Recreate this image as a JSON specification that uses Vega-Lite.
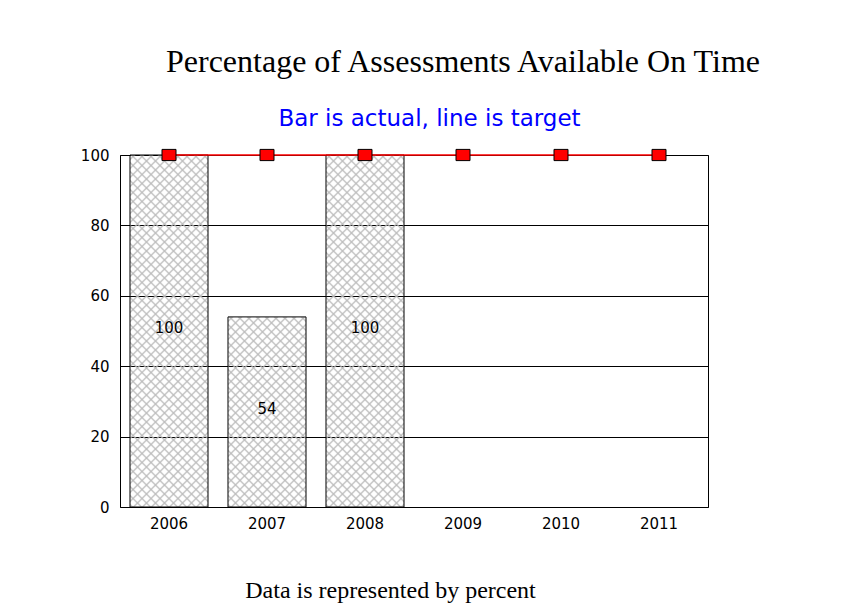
{
  "$schema": "https://vega.github.io/schema/vega-lite/v6.json",
  "width": 588,
  "height": 352,
  "autosize": "none",
  "padding": {"left": 120, "top": 155, "right": 150, "bottom": 108},
  "background": "white",
  "config": {"view": {"stroke": "black", "strokeWidth": 1}},
  "title": {"text": "Percentage of Assessments Available On Time", "font": "Liberation Serif", "fontSize": 32, "fontWeight": "normal", "color": "black", "anchor": "middle", "dx": 49, "offset": 28},
  "data": {"values": [
    {"year": "2006", "actual": 100, "target": 100},
    {"year": "2007", "actual": 54, "target": 100},
    {"year": "2008", "actual": 100, "target": 100},
    {"year": "2009", "actual": null, "target": 100},
    {"year": "2010", "actual": null, "target": 100},
    {"year": "2011", "actual": null, "target": 100}
  ]},
  "encoding": {
    "x": {"field": "year", "type": "ordinal", "scale": {"paddingInner": 0.20408, "paddingOuter": 0.10204},
      "axis": {"labelAngle": 0, "ticks": false, "domain": false, "labelFont": "DejaVu Sans", "labelFontSize": 15, "labelColor": "black", "labelPadding": 9,
        "title": "Data is represented by percent", "titleFont": "Liberation Serif", "titleFontSize": 24, "titleFontWeight": "normal", "titleColor": "black", "titleX": 270, "titleY": 90, "titleAlign": "center", "titleBaseline": "alphabetic"}}
  },
  "layer": [
    {"mark": {"type": "bar", "strokeWidth": 0},
     "encoding": {
       "y": {"field": "actual", "type": "quantitative", "scale": {"domain": [0, 100]},
         "axis": {"values": [0, 20, 40, 60, 80, 100], "grid": true, "gridColor": "black", "gridOpacity": 1, "gridWidth": 1, "ticks": false, "domain": false, "labelFont": "DejaVu Sans", "labelFontSize": 15, "labelColor": "black", "labelPadding": 11,
           "title": "Bar is actual, line is target", "titleAngle": 0, "titleX": 309, "titleY": -30, "titleAlign": "center", "titleBaseline": "alphabetic", "titleFont": "DejaVu Sans", "titleFontSize": 23, "titleFontWeight": "normal", "titleColor": "#0000ff"}},
       "fill": {
         "condition": {"test": "datum.actual < 100", "value": {"gradient": "linear", "x1": 0, "y1": 0, "x2": 0.83147, "y2": 2.02623, "stops": [
{"offset":0.006,"color":"#bbb0"},{"offset":0.01,"color":"#bbb"},{"offset":0.014,"color":"#bbb0"},
{"offset":0.026,"color":"#bbb0"},{"offset":0.03,"color":"#bbb"},{"offset":0.034,"color":"#bbb0"},
{"offset":0.046,"color":"#bbb0"},{"offset":0.05,"color":"#bbb"},{"offset":0.054,"color":"#bbb0"},
{"offset":0.066,"color":"#bbb0"},{"offset":0.07,"color":"#bbb"},{"offset":0.074,"color":"#bbb0"},
{"offset":0.086,"color":"#bbb0"},{"offset":0.09,"color":"#bbb"},{"offset":0.094,"color":"#bbb0"},
{"offset":0.106,"color":"#bbb0"},{"offset":0.11,"color":"#bbb"},{"offset":0.114,"color":"#bbb0"},
{"offset":0.126,"color":"#bbb0"},{"offset":0.13,"color":"#bbb"},{"offset":0.134,"color":"#bbb0"},
{"offset":0.146,"color":"#bbb0"},{"offset":0.15,"color":"#bbb"},{"offset":0.154,"color":"#bbb0"},
{"offset":0.166,"color":"#bbb0"},{"offset":0.17,"color":"#bbb"},{"offset":0.174,"color":"#bbb0"},
{"offset":0.186,"color":"#bbb0"},{"offset":0.19,"color":"#bbb"},{"offset":0.194,"color":"#bbb0"},
{"offset":0.206,"color":"#bbb0"},{"offset":0.21,"color":"#bbb"},{"offset":0.214,"color":"#bbb0"},
{"offset":0.226,"color":"#bbb0"},{"offset":0.23,"color":"#bbb"},{"offset":0.234,"color":"#bbb0"},
{"offset":0.246,"color":"#bbb0"},{"offset":0.25,"color":"#bbb"},{"offset":0.254,"color":"#bbb0"},
{"offset":0.266,"color":"#bbb0"},{"offset":0.27,"color":"#bbb"},{"offset":0.274,"color":"#bbb0"},
{"offset":0.286,"color":"#bbb0"},{"offset":0.29,"color":"#bbb"},{"offset":0.294,"color":"#bbb0"},
{"offset":0.306,"color":"#bbb0"},{"offset":0.31,"color":"#bbb"},{"offset":0.314,"color":"#bbb0"},
{"offset":0.326,"color":"#bbb0"},{"offset":0.33,"color":"#bbb"},{"offset":0.334,"color":"#bbb0"},
{"offset":0.346,"color":"#bbb0"},{"offset":0.35,"color":"#bbb"},{"offset":0.354,"color":"#bbb0"},
{"offset":0.366,"color":"#bbb0"},{"offset":0.37,"color":"#bbb"},{"offset":0.374,"color":"#bbb0"},
{"offset":0.386,"color":"#bbb0"},{"offset":0.39,"color":"#bbb"},{"offset":0.394,"color":"#bbb0"},
{"offset":0.406,"color":"#bbb0"},{"offset":0.41,"color":"#bbb"},{"offset":0.414,"color":"#bbb0"},
{"offset":0.426,"color":"#bbb0"},{"offset":0.43,"color":"#bbb"},{"offset":0.434,"color":"#bbb0"},
{"offset":0.446,"color":"#bbb0"},{"offset":0.45,"color":"#bbb"},{"offset":0.454,"color":"#bbb0"},
{"offset":0.466,"color":"#bbb0"},{"offset":0.47,"color":"#bbb"},{"offset":0.474,"color":"#bbb0"},
{"offset":0.486,"color":"#bbb0"},{"offset":0.49,"color":"#bbb"},{"offset":0.494,"color":"#bbb0"},
{"offset":0.506,"color":"#bbb0"},{"offset":0.51,"color":"#bbb"},{"offset":0.514,"color":"#bbb0"},
{"offset":0.526,"color":"#bbb0"},{"offset":0.53,"color":"#bbb"},{"offset":0.534,"color":"#bbb0"},
{"offset":0.546,"color":"#bbb0"},{"offset":0.55,"color":"#bbb"},{"offset":0.554,"color":"#bbb0"},
{"offset":0.566,"color":"#bbb0"},{"offset":0.57,"color":"#bbb"},{"offset":0.574,"color":"#bbb0"},
{"offset":0.586,"color":"#bbb0"},{"offset":0.59,"color":"#bbb"},{"offset":0.594,"color":"#bbb0"}
         ]}},
         "value": {"gradient": "linear", "x1": 0, "y1": 0, "x2": 0.27002, "y2": 1.21857, "stops": [
{"offset":0.006,"color":"#bbb0"},{"offset":0.01,"color":"#bbb"},{"offset":0.014,"color":"#bbb0"},
{"offset":0.026,"color":"#bbb0"},{"offset":0.03,"color":"#bbb"},{"offset":0.034,"color":"#bbb0"},
{"offset":0.046,"color":"#bbb0"},{"offset":0.05,"color":"#bbb"},{"offset":0.054,"color":"#bbb0"},
{"offset":0.066,"color":"#bbb0"},{"offset":0.07,"color":"#bbb"},{"offset":0.074,"color":"#bbb0"},
{"offset":0.086,"color":"#bbb0"},{"offset":0.09,"color":"#bbb"},{"offset":0.094,"color":"#bbb0"},
{"offset":0.106,"color":"#bbb0"},{"offset":0.11,"color":"#bbb"},{"offset":0.114,"color":"#bbb0"},
{"offset":0.126,"color":"#bbb0"},{"offset":0.13,"color":"#bbb"},{"offset":0.134,"color":"#bbb0"},
{"offset":0.146,"color":"#bbb0"},{"offset":0.15,"color":"#bbb"},{"offset":0.154,"color":"#bbb0"},
{"offset":0.166,"color":"#bbb0"},{"offset":0.17,"color":"#bbb"},{"offset":0.174,"color":"#bbb0"},
{"offset":0.186,"color":"#bbb0"},{"offset":0.19,"color":"#bbb"},{"offset":0.194,"color":"#bbb0"},
{"offset":0.206,"color":"#bbb0"},{"offset":0.21,"color":"#bbb"},{"offset":0.214,"color":"#bbb0"},
{"offset":0.226,"color":"#bbb0"},{"offset":0.23,"color":"#bbb"},{"offset":0.234,"color":"#bbb0"},
{"offset":0.246,"color":"#bbb0"},{"offset":0.25,"color":"#bbb"},{"offset":0.254,"color":"#bbb0"},
{"offset":0.266,"color":"#bbb0"},{"offset":0.27,"color":"#bbb"},{"offset":0.274,"color":"#bbb0"},
{"offset":0.286,"color":"#bbb0"},{"offset":0.29,"color":"#bbb"},{"offset":0.294,"color":"#bbb0"},
{"offset":0.306,"color":"#bbb0"},{"offset":0.31,"color":"#bbb"},{"offset":0.314,"color":"#bbb0"},
{"offset":0.326,"color":"#bbb0"},{"offset":0.33,"color":"#bbb"},{"offset":0.334,"color":"#bbb0"},
{"offset":0.346,"color":"#bbb0"},{"offset":0.35,"color":"#bbb"},{"offset":0.354,"color":"#bbb0"},
{"offset":0.366,"color":"#bbb0"},{"offset":0.37,"color":"#bbb"},{"offset":0.374,"color":"#bbb0"},
{"offset":0.386,"color":"#bbb0"},{"offset":0.39,"color":"#bbb"},{"offset":0.394,"color":"#bbb0"},
{"offset":0.406,"color":"#bbb0"},{"offset":0.41,"color":"#bbb"},{"offset":0.414,"color":"#bbb0"},
{"offset":0.426,"color":"#bbb0"},{"offset":0.43,"color":"#bbb"},{"offset":0.434,"color":"#bbb0"},
{"offset":0.446,"color":"#bbb0"},{"offset":0.45,"color":"#bbb"},{"offset":0.454,"color":"#bbb0"},
{"offset":0.466,"color":"#bbb0"},{"offset":0.47,"color":"#bbb"},{"offset":0.474,"color":"#bbb0"},
{"offset":0.486,"color":"#bbb0"},{"offset":0.49,"color":"#bbb"},{"offset":0.494,"color":"#bbb0"},
{"offset":0.506,"color":"#bbb0"},{"offset":0.51,"color":"#bbb"},{"offset":0.514,"color":"#bbb0"},
{"offset":0.526,"color":"#bbb0"},{"offset":0.53,"color":"#bbb"},{"offset":0.534,"color":"#bbb0"},
{"offset":0.546,"color":"#bbb0"},{"offset":0.55,"color":"#bbb"},{"offset":0.554,"color":"#bbb0"},
{"offset":0.566,"color":"#bbb0"},{"offset":0.57,"color":"#bbb"},{"offset":0.574,"color":"#bbb0"},
{"offset":0.586,"color":"#bbb0"},{"offset":0.59,"color":"#bbb"},{"offset":0.594,"color":"#bbb0"},
{"offset":0.606,"color":"#bbb0"},{"offset":0.61,"color":"#bbb"},{"offset":0.614,"color":"#bbb0"},
{"offset":0.626,"color":"#bbb0"},{"offset":0.63,"color":"#bbb"},{"offset":0.634,"color":"#bbb0"},
{"offset":0.646,"color":"#bbb0"},{"offset":0.65,"color":"#bbb"},{"offset":0.654,"color":"#bbb0"},
{"offset":0.666,"color":"#bbb0"},{"offset":0.67,"color":"#bbb"},{"offset":0.674,"color":"#bbb0"},
{"offset":0.686,"color":"#bbb0"},{"offset":0.69,"color":"#bbb"},{"offset":0.694,"color":"#bbb0"},
{"offset":0.706,"color":"#bbb0"},{"offset":0.71,"color":"#bbb"},{"offset":0.714,"color":"#bbb0"},
{"offset":0.726,"color":"#bbb0"},{"offset":0.73,"color":"#bbb"},{"offset":0.734,"color":"#bbb0"},
{"offset":0.746,"color":"#bbb0"},{"offset":0.75,"color":"#bbb"},{"offset":0.754,"color":"#bbb0"},
{"offset":0.766,"color":"#bbb0"},{"offset":0.77,"color":"#bbb"},{"offset":0.774,"color":"#bbb0"},
{"offset":0.786,"color":"#bbb0"},{"offset":0.79,"color":"#bbb"},{"offset":0.794,"color":"#bbb0"},
{"offset":0.806,"color":"#bbb0"},{"offset":0.81,"color":"#bbb"},{"offset":0.814,"color":"#bbb0"},
{"offset":0.826,"color":"#bbb0"},{"offset":0.83,"color":"#bbb"},{"offset":0.834,"color":"#bbb0"},
{"offset":0.846,"color":"#bbb0"},{"offset":0.85,"color":"#bbb"},{"offset":0.854,"color":"#bbb0"},
{"offset":0.866,"color":"#bbb0"},{"offset":0.87,"color":"#bbb"},{"offset":0.874,"color":"#bbb0"},
{"offset":0.886,"color":"#bbb0"},{"offset":0.89,"color":"#bbb"},{"offset":0.894,"color":"#bbb0"},
{"offset":0.906,"color":"#bbb0"},{"offset":0.91,"color":"#bbb"},{"offset":0.914,"color":"#bbb0"},
{"offset":0.926,"color":"#bbb0"},{"offset":0.93,"color":"#bbb"},{"offset":0.934,"color":"#bbb0"},
{"offset":0.946,"color":"#bbb0"},{"offset":0.95,"color":"#bbb"},{"offset":0.954,"color":"#bbb0"}
         ]}
       }
     }},
    {"mark": {"type": "bar", "stroke": "black", "strokeWidth": 1},
     "encoding": {
       "y": {"field": "actual", "type": "quantitative", "scale": {"domain": [0, 100]}, "axis": null},
       "fill": {
         "condition": {"test": "datum.actual < 100", "value": {"gradient": "linear", "x1": 1, "y1": 0, "x2": 0.16853, "y2": 2.02623, "stops": [
{"offset":0.006,"color":"#bbb0"},{"offset":0.01,"color":"#bbb"},{"offset":0.014,"color":"#bbb0"},
{"offset":0.026,"color":"#bbb0"},{"offset":0.03,"color":"#bbb"},{"offset":0.034,"color":"#bbb0"},
{"offset":0.046,"color":"#bbb0"},{"offset":0.05,"color":"#bbb"},{"offset":0.054,"color":"#bbb0"},
{"offset":0.066,"color":"#bbb0"},{"offset":0.07,"color":"#bbb"},{"offset":0.074,"color":"#bbb0"},
{"offset":0.086,"color":"#bbb0"},{"offset":0.09,"color":"#bbb"},{"offset":0.094,"color":"#bbb0"},
{"offset":0.106,"color":"#bbb0"},{"offset":0.11,"color":"#bbb"},{"offset":0.114,"color":"#bbb0"},
{"offset":0.126,"color":"#bbb0"},{"offset":0.13,"color":"#bbb"},{"offset":0.134,"color":"#bbb0"},
{"offset":0.146,"color":"#bbb0"},{"offset":0.15,"color":"#bbb"},{"offset":0.154,"color":"#bbb0"},
{"offset":0.166,"color":"#bbb0"},{"offset":0.17,"color":"#bbb"},{"offset":0.174,"color":"#bbb0"},
{"offset":0.186,"color":"#bbb0"},{"offset":0.19,"color":"#bbb"},{"offset":0.194,"color":"#bbb0"},
{"offset":0.206,"color":"#bbb0"},{"offset":0.21,"color":"#bbb"},{"offset":0.214,"color":"#bbb0"},
{"offset":0.226,"color":"#bbb0"},{"offset":0.23,"color":"#bbb"},{"offset":0.234,"color":"#bbb0"},
{"offset":0.246,"color":"#bbb0"},{"offset":0.25,"color":"#bbb"},{"offset":0.254,"color":"#bbb0"},
{"offset":0.266,"color":"#bbb0"},{"offset":0.27,"color":"#bbb"},{"offset":0.274,"color":"#bbb0"},
{"offset":0.286,"color":"#bbb0"},{"offset":0.29,"color":"#bbb"},{"offset":0.294,"color":"#bbb0"},
{"offset":0.306,"color":"#bbb0"},{"offset":0.31,"color":"#bbb"},{"offset":0.314,"color":"#bbb0"},
{"offset":0.326,"color":"#bbb0"},{"offset":0.33,"color":"#bbb"},{"offset":0.334,"color":"#bbb0"},
{"offset":0.346,"color":"#bbb0"},{"offset":0.35,"color":"#bbb"},{"offset":0.354,"color":"#bbb0"},
{"offset":0.366,"color":"#bbb0"},{"offset":0.37,"color":"#bbb"},{"offset":0.374,"color":"#bbb0"},
{"offset":0.386,"color":"#bbb0"},{"offset":0.39,"color":"#bbb"},{"offset":0.394,"color":"#bbb0"},
{"offset":0.406,"color":"#bbb0"},{"offset":0.41,"color":"#bbb"},{"offset":0.414,"color":"#bbb0"},
{"offset":0.426,"color":"#bbb0"},{"offset":0.43,"color":"#bbb"},{"offset":0.434,"color":"#bbb0"},
{"offset":0.446,"color":"#bbb0"},{"offset":0.45,"color":"#bbb"},{"offset":0.454,"color":"#bbb0"},
{"offset":0.466,"color":"#bbb0"},{"offset":0.47,"color":"#bbb"},{"offset":0.474,"color":"#bbb0"},
{"offset":0.486,"color":"#bbb0"},{"offset":0.49,"color":"#bbb"},{"offset":0.494,"color":"#bbb0"},
{"offset":0.506,"color":"#bbb0"},{"offset":0.51,"color":"#bbb"},{"offset":0.514,"color":"#bbb0"},
{"offset":0.526,"color":"#bbb0"},{"offset":0.53,"color":"#bbb"},{"offset":0.534,"color":"#bbb0"},
{"offset":0.546,"color":"#bbb0"},{"offset":0.55,"color":"#bbb"},{"offset":0.554,"color":"#bbb0"},
{"offset":0.566,"color":"#bbb0"},{"offset":0.57,"color":"#bbb"},{"offset":0.574,"color":"#bbb0"},
{"offset":0.586,"color":"#bbb0"},{"offset":0.59,"color":"#bbb"},{"offset":0.594,"color":"#bbb0"}
         ]}},
         "value": {"gradient": "linear", "x1": 1, "y1": 0, "x2": 0.72998, "y2": 1.21857, "stops": [
{"offset":0.006,"color":"#bbb0"},{"offset":0.01,"color":"#bbb"},{"offset":0.014,"color":"#bbb0"},
{"offset":0.026,"color":"#bbb0"},{"offset":0.03,"color":"#bbb"},{"offset":0.034,"color":"#bbb0"},
{"offset":0.046,"color":"#bbb0"},{"offset":0.05,"color":"#bbb"},{"offset":0.054,"color":"#bbb0"},
{"offset":0.066,"color":"#bbb0"},{"offset":0.07,"color":"#bbb"},{"offset":0.074,"color":"#bbb0"},
{"offset":0.086,"color":"#bbb0"},{"offset":0.09,"color":"#bbb"},{"offset":0.094,"color":"#bbb0"},
{"offset":0.106,"color":"#bbb0"},{"offset":0.11,"color":"#bbb"},{"offset":0.114,"color":"#bbb0"},
{"offset":0.126,"color":"#bbb0"},{"offset":0.13,"color":"#bbb"},{"offset":0.134,"color":"#bbb0"},
{"offset":0.146,"color":"#bbb0"},{"offset":0.15,"color":"#bbb"},{"offset":0.154,"color":"#bbb0"},
{"offset":0.166,"color":"#bbb0"},{"offset":0.17,"color":"#bbb"},{"offset":0.174,"color":"#bbb0"},
{"offset":0.186,"color":"#bbb0"},{"offset":0.19,"color":"#bbb"},{"offset":0.194,"color":"#bbb0"},
{"offset":0.206,"color":"#bbb0"},{"offset":0.21,"color":"#bbb"},{"offset":0.214,"color":"#bbb0"},
{"offset":0.226,"color":"#bbb0"},{"offset":0.23,"color":"#bbb"},{"offset":0.234,"color":"#bbb0"},
{"offset":0.246,"color":"#bbb0"},{"offset":0.25,"color":"#bbb"},{"offset":0.254,"color":"#bbb0"},
{"offset":0.266,"color":"#bbb0"},{"offset":0.27,"color":"#bbb"},{"offset":0.274,"color":"#bbb0"},
{"offset":0.286,"color":"#bbb0"},{"offset":0.29,"color":"#bbb"},{"offset":0.294,"color":"#bbb0"},
{"offset":0.306,"color":"#bbb0"},{"offset":0.31,"color":"#bbb"},{"offset":0.314,"color":"#bbb0"},
{"offset":0.326,"color":"#bbb0"},{"offset":0.33,"color":"#bbb"},{"offset":0.334,"color":"#bbb0"},
{"offset":0.346,"color":"#bbb0"},{"offset":0.35,"color":"#bbb"},{"offset":0.354,"color":"#bbb0"},
{"offset":0.366,"color":"#bbb0"},{"offset":0.37,"color":"#bbb"},{"offset":0.374,"color":"#bbb0"},
{"offset":0.386,"color":"#bbb0"},{"offset":0.39,"color":"#bbb"},{"offset":0.394,"color":"#bbb0"},
{"offset":0.406,"color":"#bbb0"},{"offset":0.41,"color":"#bbb"},{"offset":0.414,"color":"#bbb0"},
{"offset":0.426,"color":"#bbb0"},{"offset":0.43,"color":"#bbb"},{"offset":0.434,"color":"#bbb0"},
{"offset":0.446,"color":"#bbb0"},{"offset":0.45,"color":"#bbb"},{"offset":0.454,"color":"#bbb0"},
{"offset":0.466,"color":"#bbb0"},{"offset":0.47,"color":"#bbb"},{"offset":0.474,"color":"#bbb0"},
{"offset":0.486,"color":"#bbb0"},{"offset":0.49,"color":"#bbb"},{"offset":0.494,"color":"#bbb0"},
{"offset":0.506,"color":"#bbb0"},{"offset":0.51,"color":"#bbb"},{"offset":0.514,"color":"#bbb0"},
{"offset":0.526,"color":"#bbb0"},{"offset":0.53,"color":"#bbb"},{"offset":0.534,"color":"#bbb0"},
{"offset":0.546,"color":"#bbb0"},{"offset":0.55,"color":"#bbb"},{"offset":0.554,"color":"#bbb0"},
{"offset":0.566,"color":"#bbb0"},{"offset":0.57,"color":"#bbb"},{"offset":0.574,"color":"#bbb0"},
{"offset":0.586,"color":"#bbb0"},{"offset":0.59,"color":"#bbb"},{"offset":0.594,"color":"#bbb0"},
{"offset":0.606,"color":"#bbb0"},{"offset":0.61,"color":"#bbb"},{"offset":0.614,"color":"#bbb0"},
{"offset":0.626,"color":"#bbb0"},{"offset":0.63,"color":"#bbb"},{"offset":0.634,"color":"#bbb0"},
{"offset":0.646,"color":"#bbb0"},{"offset":0.65,"color":"#bbb"},{"offset":0.654,"color":"#bbb0"},
{"offset":0.666,"color":"#bbb0"},{"offset":0.67,"color":"#bbb"},{"offset":0.674,"color":"#bbb0"},
{"offset":0.686,"color":"#bbb0"},{"offset":0.69,"color":"#bbb"},{"offset":0.694,"color":"#bbb0"},
{"offset":0.706,"color":"#bbb0"},{"offset":0.71,"color":"#bbb"},{"offset":0.714,"color":"#bbb0"},
{"offset":0.726,"color":"#bbb0"},{"offset":0.73,"color":"#bbb"},{"offset":0.734,"color":"#bbb0"},
{"offset":0.746,"color":"#bbb0"},{"offset":0.75,"color":"#bbb"},{"offset":0.754,"color":"#bbb0"},
{"offset":0.766,"color":"#bbb0"},{"offset":0.77,"color":"#bbb"},{"offset":0.774,"color":"#bbb0"},
{"offset":0.786,"color":"#bbb0"},{"offset":0.79,"color":"#bbb"},{"offset":0.794,"color":"#bbb0"},
{"offset":0.806,"color":"#bbb0"},{"offset":0.81,"color":"#bbb"},{"offset":0.814,"color":"#bbb0"},
{"offset":0.826,"color":"#bbb0"},{"offset":0.83,"color":"#bbb"},{"offset":0.834,"color":"#bbb0"},
{"offset":0.846,"color":"#bbb0"},{"offset":0.85,"color":"#bbb"},{"offset":0.854,"color":"#bbb0"},
{"offset":0.866,"color":"#bbb0"},{"offset":0.87,"color":"#bbb"},{"offset":0.874,"color":"#bbb0"},
{"offset":0.886,"color":"#bbb0"},{"offset":0.89,"color":"#bbb"},{"offset":0.894,"color":"#bbb0"},
{"offset":0.906,"color":"#bbb0"},{"offset":0.91,"color":"#bbb"},{"offset":0.914,"color":"#bbb0"},
{"offset":0.926,"color":"#bbb0"},{"offset":0.93,"color":"#bbb"},{"offset":0.934,"color":"#bbb0"},
{"offset":0.946,"color":"#bbb0"},{"offset":0.95,"color":"#bbb"},{"offset":0.954,"color":"#bbb0"}
         ]}
       }
     }},
    {"mark": {"type": "text", "font": "DejaVu Sans", "fontSize": 15, "color": "black", "baseline": "middle", "dy": -3},
     "encoding": {"y": {"field": "actual", "type": "quantitative", "scale": {"domain": [0, 200]}, "axis": null}, "text": {"field": "actual", "type": "quantitative"}}},
    {"mark": {"type": "line", "color": "#ff0000", "strokeWidth": 1.5},
     "encoding": {"y": {"field": "target", "type": "quantitative", "scale": {"domain": [0, 100]}, "axis": null}}},
    {"mark": {"type": "point", "shape": "M-1,-0.8H1V0.8H-1Z", "size": 196, "filled": true, "fill": "#ff0000", "stroke": "black", "strokeWidth": 1, "opacity": 1},
     "encoding": {"y": {"field": "target", "type": "quantitative", "scale": {"domain": [0, 100]}, "axis": null}}}
  ],
  "resolve": {"scale": {"y": "independent"}}
}
